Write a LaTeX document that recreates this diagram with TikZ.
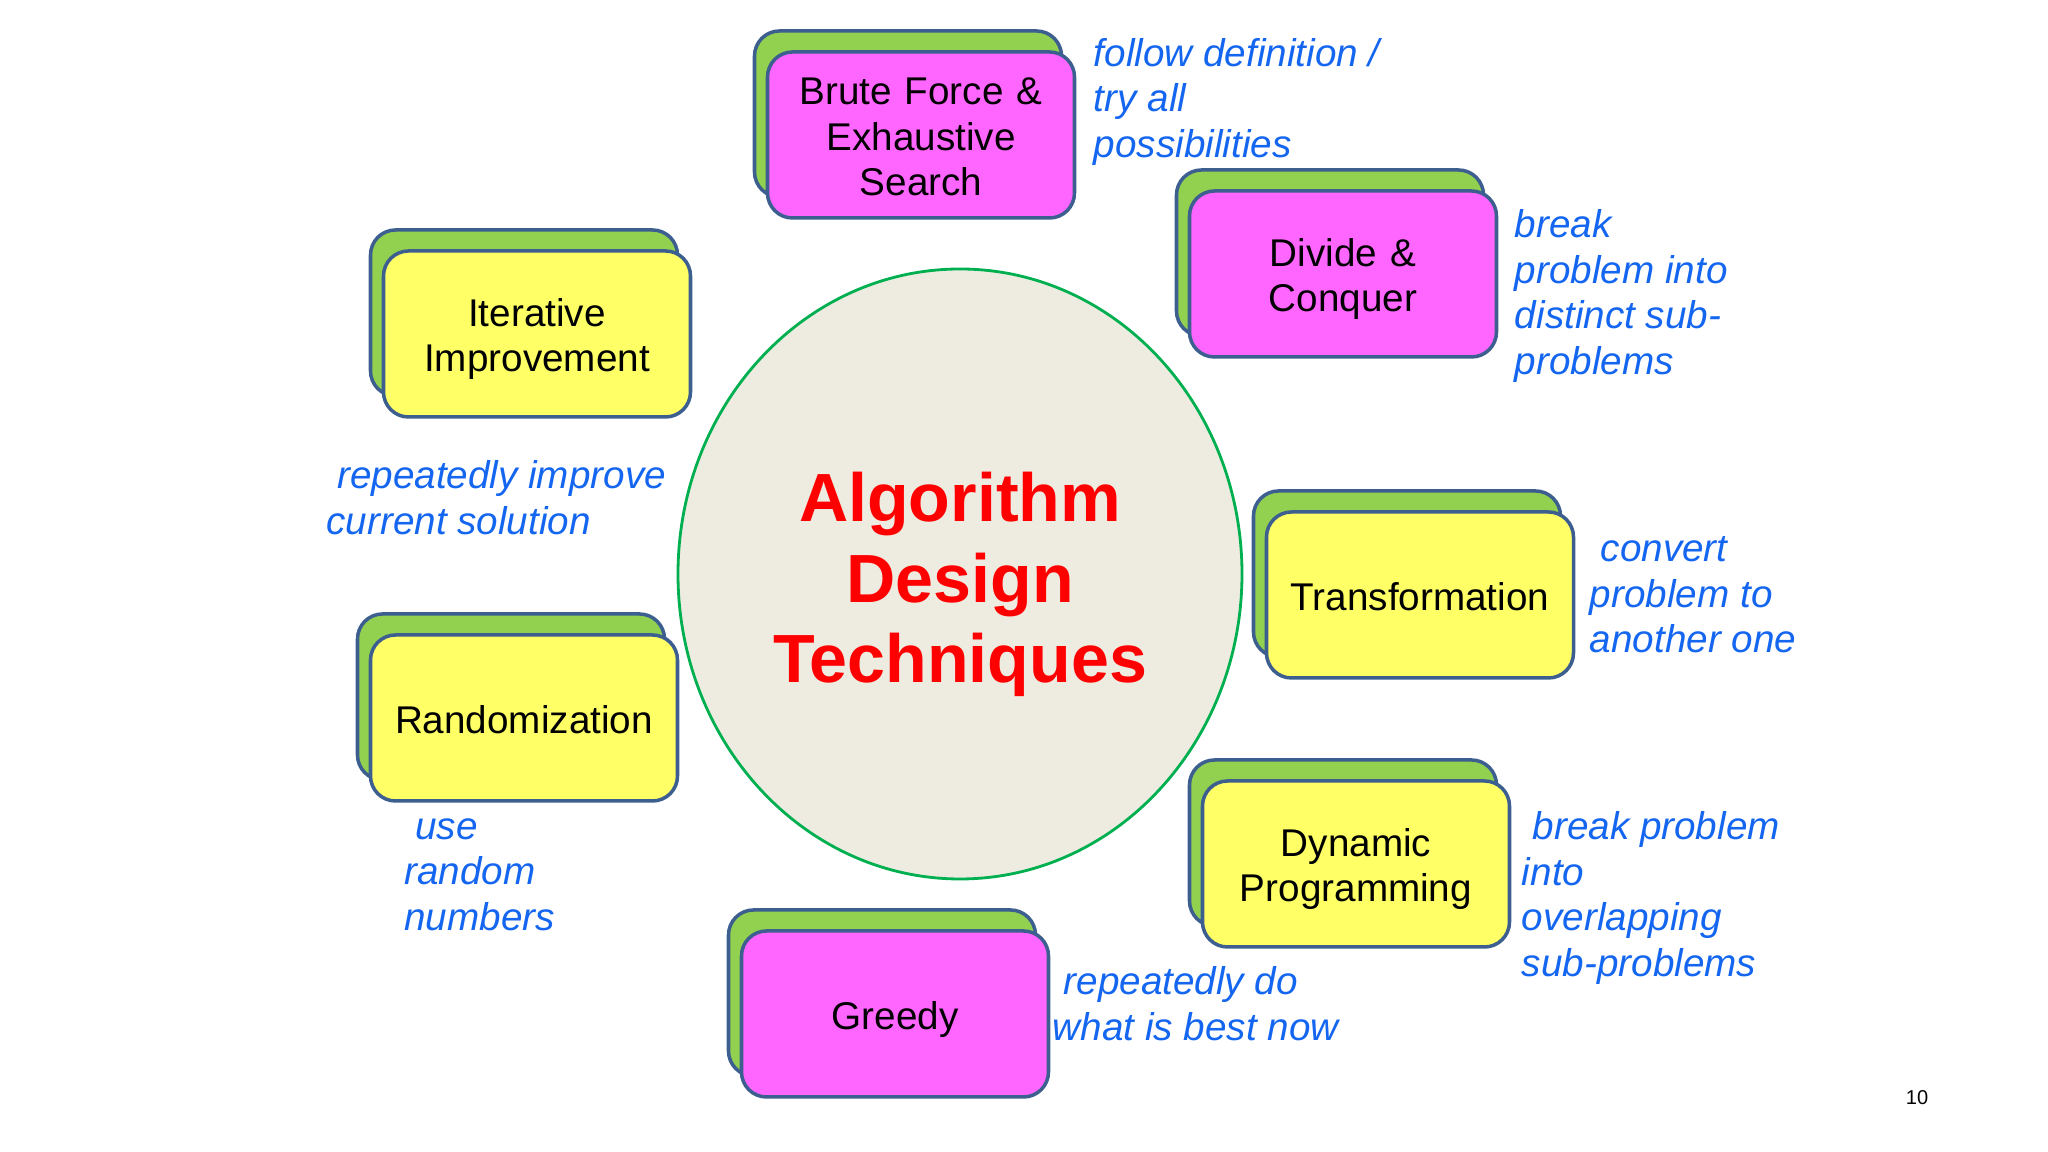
\documentclass[tikz,border=0pt]{standalone}
\usepackage{fontspec}
\setmainfont{Liberation Sans}
\usepackage{xcolor}
\usetikzlibrary{positioning, shapes.geometric, shadows, calc}

\definecolor{cardpink}{HTML}{FF66FF}
\definecolor{cardyellow}{HTML}{FFFF66}
\definecolor{cardgreen}{HTML}{92D050}
\definecolor{cardedge}{HTML}{3D5F8F}
\definecolor{noteblue}{HTML}{1466F0}
\definecolor{hubgreen}{HTML}{00B050}
\definecolor{hubfill}{HTML}{EEECE1}

\begin{document}
\begin{tikzpicture}[
    card/.style={draw=cardedge, line width=1pt, rectangle, rounded corners=0.25cm, minimum width=3.07cm, minimum height=1.66cm, inner xsep=0.05cm, text width=2.9cm, align=center, font=\fontsize{11}{13}\selectfont, execute at begin node={\rule{0pt}{10.9pt}}, execute at end node={\rule[-2.3pt]{0pt}{0pt}}, copy shadow={shadow xshift=-0.13cm, shadow yshift=0.21cm, draw=cardedge, fill=cardgreen}},
    pinkcard/.style={card, fill=cardpink},
    yellowcard/.style={card, fill=cardyellow},
    note/.style={anchor=west, inner sep=0pt, align=left, text=noteblue, font=\fontsize{11}{13}\selectfont\itshape},
    hub/.style={draw=hubgreen, line width=0.8pt, fill=hubfill, ellipse, minimum width=5.64cm, minimum height=6.1cm},
    hubtitle/.style={inner sep=0pt, text width=4.5cm, align=center, text=red, font=\fontsize{19.4}{22.9}\selectfont\bfseries, execute at begin node={\rule{0pt}{20.5pt}}, execute at end node={\rule[-4.5pt]{0pt}{0pt}}}
]
\useasboundingbox (0,0) rectangle (20.48,11.52);

% Center
\node[hub] (algo) at (9.60,5.78) {};
\node[hubtitle] (algotitle) at (algo.center) {Algorithm\\Design\\Techniques};

% Techniques
\node[pinkcard] (brute) at (9.21,10.17) {Brute Force \&\\Exhaustive\\Search};
\node[pinkcard] (divide) at (13.43,8.78) {Divide \&\\Conquer};
\node[yellowcard] (iter) at (5.37,8.18) {Iterative\\Improvement};
\node[yellowcard] (trans) at (14.20,5.57) {Transformation};
\node[yellowcard] (rand) at (5.24,4.34) {Randomization};
\node[yellowcard] (dynprog) at (13.56,2.88) {Dynamic\\Programming};
\node[pinkcard] (greedy) at (8.95,1.38) {Greedy};

% Notes
\node[note] (brutenote) at ($(brute.east)+(0.17,0.33)$) {follow definition /\\try all\\possibilities};
\node[note] (dividenote) at ($(divide.east)+(0.16,-0.22)$) {break\\problem into\\distinct sub-\\problems};
\node[note] (iternote) at ($(iter.south west)+(-0.56,-0.79)$) {~repeatedly improve\\current solution};
\node[note] (transnote) at ($(trans.east)+(0.14,0)$) {~convert\\problem to\\another one};
\node[note] (randnote) at ($(rand.south west)+(0.35,-0.72)$) {~use\\random\\numbers};
\node[note] (dynprognote) at ($(dynprog.east)+(0.10,-0.34)$) {~break problem\\into\\overlapping\\sub-problems};
\node[note] (greedynote) at ($(greedy.east)+(0.02,0.10)$) {~repeatedly do\\what is best now};

% Slide number
\node[font=\fontsize{5.7}{7}\selectfont] (slidenum) at (19.17,0.54) {10};

\end{tikzpicture}
\end{document}
